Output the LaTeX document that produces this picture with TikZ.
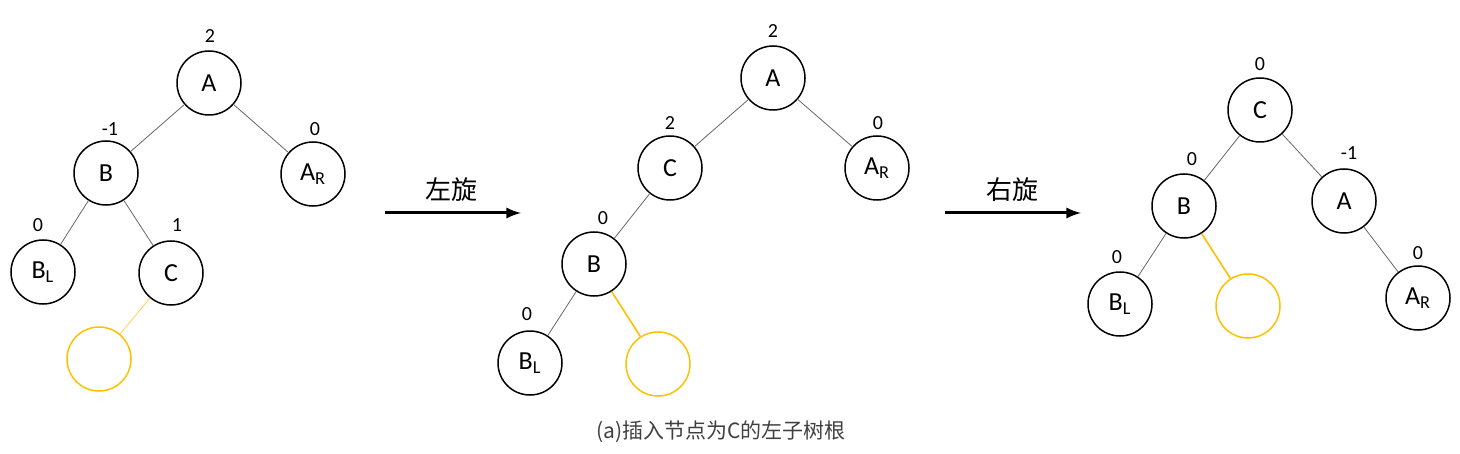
\documentclass[tikz,border=0pt]{standalone}
\usepackage{fontspec}
\setmainfont{Carlito}
\newfontfamily\cjk{Noto Sans CJK SC}
\usepackage{tikz}
\definecolor{gold}{RGB}{255,192,0}

\begin{document}
\begin{tikzpicture}[x=0.5pt,y=-0.5pt,
	avl/.style={circle,draw,line width=0.75pt,minimum size=32pt,inner sep=0pt,font=\fontsize{13}{15}\selectfont},
	hole/.style={avl,draw=gold},
	bf/.style={font=\fontsize{10}{11}\selectfont},
	edge/.style={gray!80!black,line width=0.4pt},
	newedge/.style={gold,line width=0.8pt}]
	\useasboundingbox (0,0) rectangle (1460,454);
	% first tree
	\node[avl] (a1) at (209,83) {A};
	\node[avl] (b1) at (106,173) {B};
	\node[avl] (ar1) at (313,174) {A\textsubscript{R}};
	\node[avl] (bl1) at (43,272) {B\textsubscript{L}};
	\node[avl] (c1) at (171,273) {C};
	\node[hole] (y1) at (99,359) {};
	\node[bf] (fa1) at (210,36) {2};
	\node[bf] (fb1) at (110,129) {-1};
	\node[bf] (far1) at (315,129) {0};
	\node[bf] (fbl1) at (38,225) {0};
	\node[bf] (fc1) at (177,225) {1};
	\draw[edge] (a1)--(b1);
	\draw[edge] (a1)--(ar1);
	\draw[edge] (b1)--(bl1);
	\draw[edge] (b1)--(c1);
	\draw[gold!70,line width=0.4pt] (c1)--(y1);
	% left rotation
	\coordinate (s1) at (385,213);
	\coordinate (t1) at (521,213);
	\draw[line width=1.5pt,-latex] (s1)--(t1);
	\node[font=\cjk\fontsize{13}{14}\selectfont] (l1) at (451,190) {左旋};
	% second tree
	\node[avl] (a2) at (773,78) {A};
	\node[avl] (c2) at (670,168) {C};
	\node[avl] (ar2) at (877,168) {A\textsubscript{R}};
	\node[avl] (b2) at (594,264) {B};
	\node[avl] (bl2) at (530,363) {B\textsubscript{L}};
	\node[hole] (y2) at (658,364) {};
	\node[bf] (fa2) at (773,31) {2};
	\node[bf] (fc2) at (670,123) {2};
	\node[bf] (far2) at (878,123) {0};
	\node[bf] (fb2) at (603,218) {0};
	\node[bf] (fbl2) at (527,314) {0};
	\draw[edge] (a2)--(c2);
	\draw[edge] (a2)--(ar2);
	\draw[edge] (c2)--(b2);
	\draw[edge] (b2)--(bl2);
	\draw[newedge] (b2)--(y2);
	% right rotation
	\coordinate (s2) at (945,213);
	\coordinate (t2) at (1081,213);
	\draw[line width=1.5pt,-latex] (s2)--(t2);
	\node[font=\cjk\fontsize{13}{14}\selectfont] (l2) at (1012,190) {右旋};
	% third tree
	\node[avl] (c3) at (1260,110) {C};
	\node[avl] (b3) at (1184,206) {B};
	\node[avl] (a3) at (1344,201) {A};
	\node[avl] (bl3) at (1120,304) {B\textsubscript{L}};
	\node[hole] (y3) at (1248,306) {};
	\node[avl] (ar3) at (1418,298) {A\textsubscript{R}};
	\node[bf] (fc3) at (1260,64) {0};
	\node[bf] (fb3) at (1192,159) {0};
	\node[bf] (fa3) at (1349,153) {-1};
	\node[bf] (fbl3) at (1117,257) {0};
	\node[bf] (far3) at (1418,253) {0};
	\draw[edge] (c3)--(b3);
	\draw[edge] (c3)--(a3);
	\draw[edge] (b3)--(bl3);
	\draw[newedge] (b3)--(y3);
	\draw[edge] (a3)--(ar3);
	% caption
	\node[font=\cjk\fontsize{10.5}{12}\selectfont,text=black!75] (cap) at (721,432) {(a)插入节点为C的左子树根};
\end{tikzpicture}
\end{document}
